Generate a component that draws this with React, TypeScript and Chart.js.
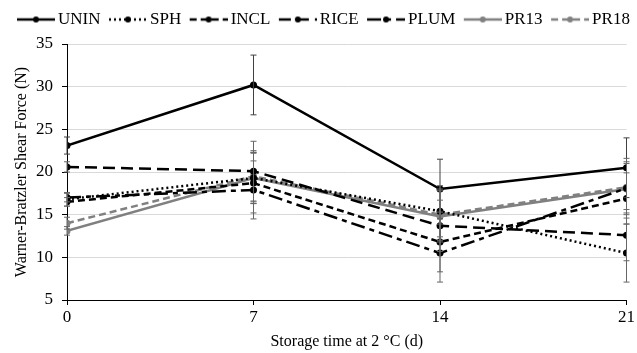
import React, { useEffect, useRef } from "react";
import { Chart, registerables } from "chart.js";

Chart.register(...registerables);

const days = [0, 7, 14, 21];
const seriesNames = ["UNIN", "SPH", "INCL", "RICE", "PLUM", "PR13", "PR18"];
const unin = [23.1, 30.2, 18.0, 20.5];
const sph = [16.8, 19.3, 15.4, 10.5];
const incl = [16.5, 18.7, 11.8, 16.9];
const rice = [20.6, 20.1, 13.7, 12.6];
const plum = [17.0, 17.9, 10.5, 18.1];
const pr13 = [13.1, 19.3, 14.8, 18.0];
const pr18 = [14.0, 19.5, 15.0, 18.2];
const uninErr = [1.0, 3.5, 3.5, 3.5];
const sphErr = [0.8, 3.0, 3.0, 3.4];
const inclErr = [0.5, 3.5, 3.5, 3.0];
const riceErr = [0.6, 3.5, 3.0, 3.0];
const plumErr = [0.5, 3.4, 3.4, 3.5];
const pr13Err = [0.5, 3.0, 3.0, 3.0];
const pr18Err = [0.7, 3.0, 3.0, 3.0];
const yTicks = [5, 10, 15, 20, 25, 30, 35];

const values = [unin, sph, incl, rice, plum, pr13, pr18];
const errors = [uninErr, sphErr, inclErr, riceErr, plumErr, pr13Err, pr18Err];
const colors = ["#000000", "#000000", "#000000", "#000000", "#000000", "#808080", "#808080"];
const dashes: number[][] = [[], [2, 3], [7, 4], [12, 6], [14, 5, 5, 5], [], [7, 4]];

const FONT = "'Liberation Serif', 'Times New Roman', serif";
const LEG_FONT = 17;
const LEG_PAD = 11;
const LEG_BOX = 30;
const ICON_W = LEG_BOX + 11;
const LEG_X0 = 19.5;

function legendIcon(color: string, dash: number[]) {
  const c = document.createElement("canvas");
  c.width = ICON_W;
  c.height = 10;
  const ctx = c.getContext("2d")!;
  const x0 = ICON_W - 38;
  ctx.strokeStyle = color;
  ctx.lineWidth = 2.5;
  ctx.setLineDash(dash);
  ctx.beginPath();
  ctx.moveTo(x0, 5);
  ctx.lineTo(ICON_W, 5);
  ctx.stroke();
  ctx.setLineDash([]);
  ctx.fillStyle = color;
  ctx.beginPath();
  ctx.arc(x0 + 19, 5, 3, 0, Math.PI * 2);
  ctx.fill();
  return c;
}

const errorBarPlugin = {
  id: "errorBars",
  afterDatasetsDraw(chart: any) {
    const ctx = chart.ctx;
    const xs = chart.scales.x;
    const ys = chart.scales.y;
    ctx.save();
    ctx.lineWidth = 1;
    chart.data.datasets.forEach((ds: any, i: number) => {
      ctx.strokeStyle = i === 0 ? "#404040" : "#666666";
      ds.data.forEach((p: any, j: number) => {
        const e = errors[i][j];
        const x = xs.getPixelForValue(p.x);
        const yt = ys.getPixelForValue(p.y + e);
        const yb = ys.getPixelForValue(p.y - e);
        ctx.beginPath();
        ctx.moveTo(x, yt);
        ctx.lineTo(x, yb);
        ctx.moveTo(x - 3, yt);
        ctx.lineTo(x + 3, yt);
        ctx.moveTo(x - 3, yb);
        ctx.lineTo(x + 3, yb);
        ctx.stroke();
      });
    });
    ctx.restore();
  },
};

const legendFitPlugin = {
  id: "legendFit",
  beforeInit(chart: any) {
    const lg = chart.legend;
    if (lg) {
      const origFit = lg.fit;
      lg.fit = function () {
        const mw = this.maxWidth;
        this.maxWidth = 3000;
        origFit.call(this);
        this.maxWidth = mw;
        this.width = mw;
        this.height = 44;
      };
      const origDraw = lg.draw;
      lg.draw = function () {
        const l = this.left;
        const r = this.right;
        const lw = this.lineWidths ? this.lineWidths[0] : 0;
        this.right = 3000;
        this.left = 2 * LEG_X0 - LEG_PAD - 3000 + lw;
        origDraw.call(this);
        this.left = l;
        this.right = r;
      };
    }
  },
};

export default function App() {
  const ref = useRef<HTMLCanvasElement>(null);
  useEffect(() => {
    document.body.style.margin = "0";
    const datasets = seriesNames.map((name, i) => ({
      label: name,
      data: days.map((d, j) => ({ x: d, y: values[i][j] })),
      borderColor: colors[i],
      backgroundColor: colors[i],
      borderWidth: 2.5,
      borderDash: dashes[i],
      pointRadius: 3.5,
      pointHoverRadius: 3.5,
      pointBackgroundColor: colors[i],
      pointBorderWidth: 0,
      tension: 0,
      fill: false,
    }));
    const icons = seriesNames.map((_, i) => legendIcon(colors[i], dashes[i]));
    const chart = new Chart(ref.current!, {
      type: "line",
      data: { datasets },
      plugins: [errorBarPlugin, legendFitPlugin],
      options: {
        animation: false,
        responsive: false,
        layout: { padding: { left: 0, right: 9, top: 0, bottom: 0 } },
        font: { family: FONT },
        plugins: {
          tooltip: { enabled: false },
          legend: {
            position: "top",
            labels: {
              usePointStyle: true,
              pointStyleWidth: LEG_BOX,
              boxHeight: 10,
              padding: LEG_PAD,
              color: "#000",
              font: { family: FONT, size: LEG_FONT },
              generateLabels: (chart: any) =>
                chart.data.datasets.map((ds: any, i: number) => ({
                  text: ds.label,
                  pointStyle: icons[i],
                  fillStyle: colors[i],
                  strokeStyle: colors[i],
                  lineWidth: 0,
                  hidden: false,
                  datasetIndex: i,
                  fontColor: "#000",
                })),
            },
          },
        },
        scales: {
          x: {
            type: "linear",
            min: 0,
            max: 21,
            afterBuildTicks: (s: any) => {
              s.ticks = days.map((v) => ({ value: v }));
            },
            afterFit: (s: any) => {
              s.height = 53;
            },
            border: { display: true, color: "#000", width: 1 },
            grid: { display: true, drawOnChartArea: false, drawTicks: true, tickLength: 5, color: "#000", tickColor: "#000" },
            ticks: { color: "#000", font: { family: FONT, size: 17 }, padding: 2, maxRotation: 0 },
            title: {
              display: true,
              text: "Storage time at 2 °C (d)",
              color: "#000",
              font: { family: FONT, size: 16 },
              padding: { top: 2, bottom: 2 },
            },
          },
          y: {
            min: 5,
            max: 35,
            afterBuildTicks: (s: any) => {
              s.ticks = yTicks.map((v) => ({ value: v }));
            },
            afterFit: (s: any) => {
              s.width = 67;
            },
            border: { display: true, color: "#000", width: 1 },
            grid: { color: "#d9d9d9", tickColor: "#000", tickLength: 5, drawTicks: true },
            ticks: { color: "#000", font: { family: FONT, size: 17 }, padding: 9 },
            title: {
              display: true,
              text: "Warner-Bratzler Shear Force (N)",
              color: "#000",
              font: { family: FONT, size: 16 },
              padding: { top: 12, bottom: 4 },
            },
          },
        },
      } as any,
    });
    return () => chart.destroy();
  }, []);
  return (
    <div style={{ position: "absolute", left: 0, top: 0, width: 637, height: 353 }}>
      <canvas ref={ref} width={637} height={353} style={{ width: 637, height: 353 }} />
    </div>
  );
}
